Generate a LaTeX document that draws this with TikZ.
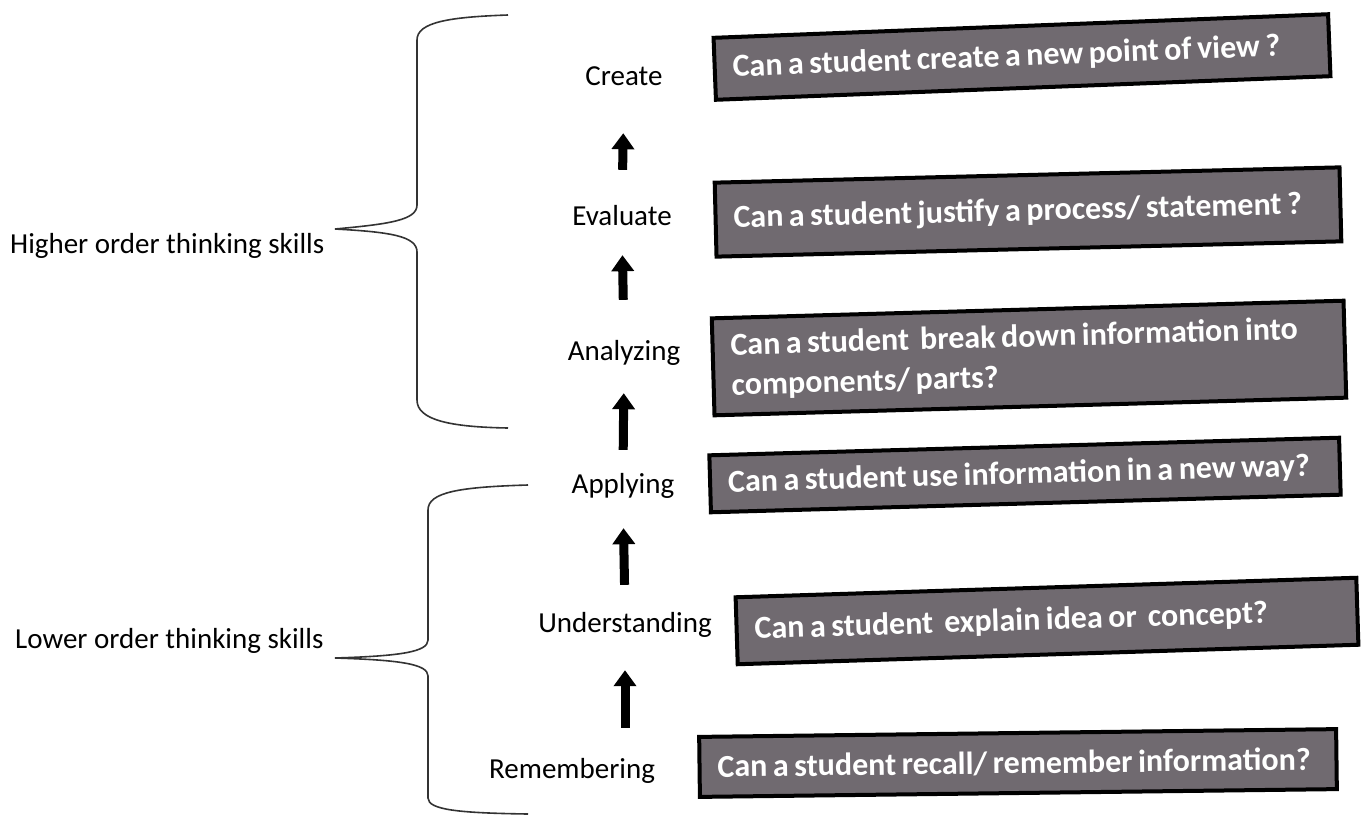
\documentclass[tikz,border=0pt]{standalone}
\usepackage{fontspec}
\setmainfont{Carlito}
\usetikzlibrary{arrows.meta}
\definecolor{boxgray}{RGB}{112,106,112}
\newcommand\tightspaces{\spaceskip=5.5pt plus 1pt\relax}
\tikzset{
  lvl/.style={font=\fontsize{29}{34}\selectfont, inner sep=0pt, text height=21pt, text depth=7pt, anchor=base},
  side/.style={font=\fontsize{29}{34}\selectfont, inner sep=0pt, anchor=base west},
  qbox/.style={draw=black, line width=4pt, fill=boxgray, text=white,
    font=\bfseries\fontsize{32}{40}\selectfont, execute at begin node=\tightspaces,
    align=left, inner xsep=18pt, inner ysep=4pt},
  upar/.style={-{Triangle[width=22pt,length=16pt]}, line width=9pt},
  bracepath/.style={line width=1.6pt, draw=black!80}
}
\begin{document}
\begin{tikzpicture}[x=1pt,y=-1pt]
\useasboundingbox (0,0) rectangle (1367,817);
\fill[white] (0,0) rectangle (1367,817);

% level labels
\node[lvl] (create) at (624,85) {Create};
\node[lvl] (evaluate) at (622,225) {Evaluate};
\node[lvl] (analyze) at (624,360) {Analyzing};
\node[lvl] (apply) at (623,493) {Applying};
\node[lvl] (understand) at (625,632) {Understanding};
\node[lvl] (remember) at (572,778) {Remembering};

% arrows
\draw[upar, shorten <=34pt, shorten >=41pt] (evaluate.north) -- (create.south);
\draw[upar, shorten <=39pt, shorten >=23pt] (analyze.north) -- (evaluate.south);
\draw[upar, shorten <=22pt, shorten >=26pt] (apply.north) -- (analyze.south);
\draw[upar, shorten <=26pt, shorten >=28pt] (understand.north) -- (apply.south);
\draw[upar, shorten <=29pt, shorten >=31pt] (remember.north -| understand.south) -- (understand.south);

% question boxes
\node[qbox, rotate=2.2, minimum height=62pt, text width=579pt] (q1) at (1022,57)
  {Can a student create a new point of view ?};
\node[qbox, rotate=1.4, minimum height=74pt, text width=589pt] (q2) at (1028,212)
  {Can a student justify a process/ statement ?};
\node[qbox, rotate=1.6, minimum height=97pt, text width=596pt] (q3) at (1029,358)
  {Can a student\ \ break down information into\\components/ parts?};
\node[qbox, rotate=1.6, minimum height=57pt, text width=594pt] (q4) at (1025,475)
  {Can a student use information in a new way?};
\node[qbox, rotate=1.8, minimum height=67pt, text width=585pt] (q5) at (1047,621)
  {Can a student\ \ explain idea or\ \ concept?};
\node[qbox, rotate=0.7, minimum height=60pt, text width=601pt] (q6) at (1018,763)
  {Can a student recall/ remember information?};

% side labels
\node[side] (higher) at (10,253) {Higher order thinking skills};
\node[side] (lower) at (15,648) {Lower order thinking skills};

% braces
\coordinate (htip) at (335,229);
\coordinate (ltip) at (335,658);
\draw[bracepath] (508,15) .. controls (450,17) and (417,22) .. (417,40) -- (417,205)
  .. controls (417,220) and (390,224) .. (htip);
\draw[bracepath] (htip) .. controls (390,232) and (417,236) .. (417,252) -- (417,400)
  .. controls (417,420) and (450,427) .. (508,428);
\draw[bracepath] (528,485) .. controls (460,487) and (428,492) .. (428,510) -- (428,640)
  .. controls (428,652) and (400,656) .. (ltip);
\draw[bracepath] (ltip) .. controls (400,660) and (428,664) .. (428,676) -- (428,798)
  .. controls (428,810) and (460,813) .. (528,814);
\end{tikzpicture}
\end{document}
